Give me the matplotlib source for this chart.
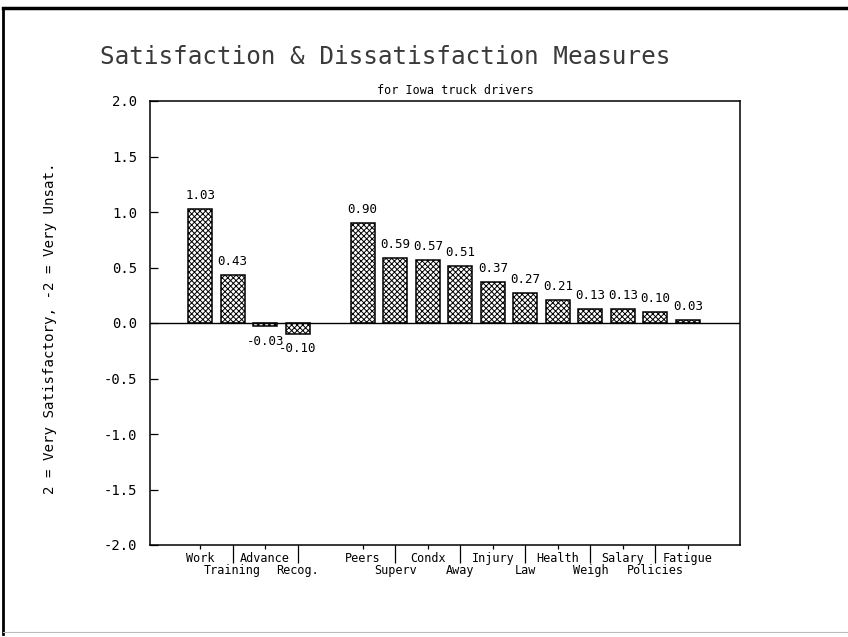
import numpy as np
import matplotlib
matplotlib.use("Agg")
import matplotlib.pyplot as plt
from matplotlib.lines import Line2D

# satisfaction scores, two groups of items with a blank slot between them
group1 = ["Work", "Training", "Advance", "Recog."]
vals1 = [1.03, 0.43, -0.03, -0.10]
group2 = ["Peers", "Superv", "Condx", "Away", "Injury", "Law",
          "Health", "Weigh", "Salary", "Policies", "Fatigue"]
vals2 = [0.90, 0.59, 0.57, 0.51, 0.37, 0.27, 0.21, 0.13, 0.13, 0.10, 0.03]
yticks = [2.0, 1.5, 1.0, 0.5, 0.0, -0.5, -1.0, -1.5, -2.0]

title = "Satisfaction & Dissatisfaction Measures"
subtitle = "for Iowa truck drivers"
ylabel = "2 = Very Satisfactory, -2 = Very Unsat."

MONO = "DejaVu Sans Mono"
plt.rcParams["font.family"] = [MONO, "DejaVu Sans"]
plt.rcParams["hatch.linewidth"] = 0.7

fig = plt.figure(figsize=(8.48, 6.37), dpi=100)
W, H = 848, 637
ax = fig.add_axes([150 / W, 1 - 545 / H, 590 / W, 444 / H])

x1 = np.arange(len(group1))
x2 = np.arange(len(group2)) + len(group1) + 1
xs = np.concatenate([x1, x2])
vals = vals1 + vals2

ax.bar(xs, vals, width=0.74, color="white", edgecolor="black",
       hatch="xxxxxx", linewidth=1.1, zorder=2)
ax.axhline(0, color="black", lw=1.0, zorder=3)

for x, v in zip(xs, vals):
    if v >= 0:
        ax.annotate("%.2f" % v, (x, v), xytext=(0, 5), textcoords="offset points",
                    ha="center", va="bottom", fontsize=9)
    else:
        ax.annotate("%.2f" % v, (x, v), xytext=(0, -6), textcoords="offset points",
                    ha="center", va="top", fontsize=9)

# staggered category labels: alternate rows inside each group
top_x = list(x1[0::2]) + list(x2[0::2])
top_l = group1[0::2] + group2[0::2]
bot_x = list(x1[1::2]) + list(x2[1::2])
bot_l = group1[1::2] + group2[1::2]

ax.set_xticks(top_x)
ax.set_xticklabels(top_l, fontsize=8.5)
ax.set_xticks(bot_x, minor=True)
ax.set_xticklabels(bot_l, minor=True, fontsize=8.5)
ax.tick_params(axis="x", which="major", direction="out", length=3, width=0.9, pad=2)
ax.tick_params(axis="x", which="minor", direction="out", length=13, width=0.9, pad=1)

ax.set_xlim(-1.54, 16.6)
ax.set_ylim(-2.0, 2.0)
ax.set_yticks(yticks)
ax.set_yticklabels(["%.1f" % t for t in yticks], fontsize=10)
ax.tick_params(axis="y", direction="in", length=6, width=0.9, pad=9)

for s in ax.spines.values():
    s.set_linewidth(1.1)

fig.text(100 / W, 1 - 57 / H, title, fontsize=17.5, color="#3a3a3a",
         ha="left", va="center")
fig.text(455 / W, 1 - 90 / H, subtitle, fontsize=8.5, ha="center", va="center")
fig.text(50 / W, 1 - 328 / H, ylabel, rotation=90, fontsize=10.2,
         ha="center", va="center")

# outer frame of the scanned page
fig.add_artist(Line2D([3 / W, 3 / W], [0.005, 1 - 8 / H], color="black", lw=2.0,
                      transform=fig.transFigure))
fig.add_artist(Line2D([3 / W, 1.0], [1 - 8 / H, 1 - 8 / H], color="black", lw=2.5,
                      transform=fig.transFigure))
fig.add_artist(Line2D([3 / W, 1.0], [1 - 632 / H, 1 - 632 / H], color="#bbbbbb", lw=0.8,
                      transform=fig.transFigure))

fig.savefig("out.png", dpi=100)
